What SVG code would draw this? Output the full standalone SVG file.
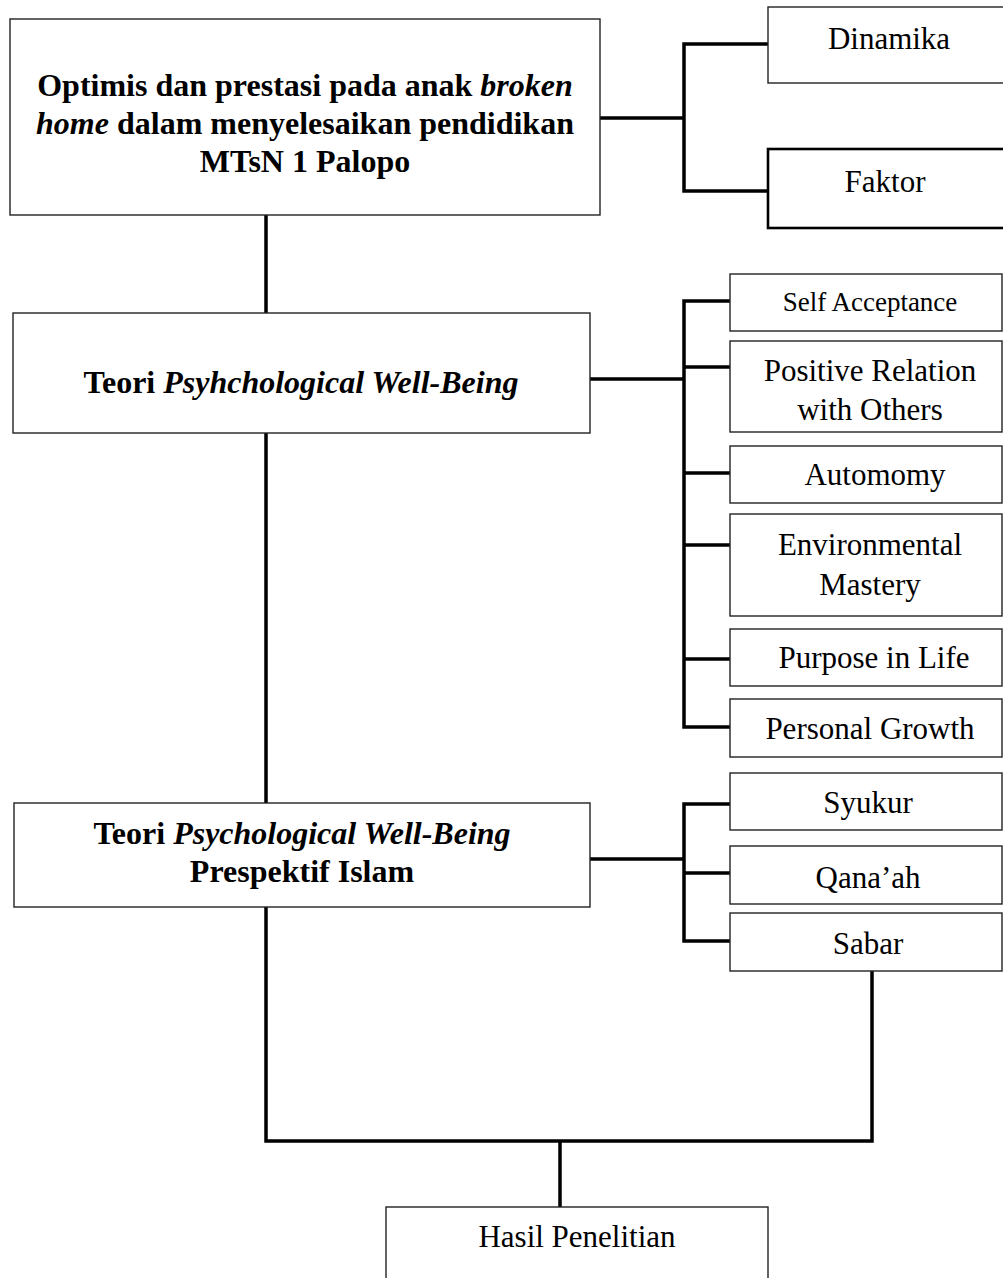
<svg xmlns="http://www.w3.org/2000/svg" width="1003" height="1278" viewBox="0 0 1003 1278">
<style>
.box{fill:#fff;stroke:#222;stroke-width:1.4}
.thick{fill:#fff;stroke:#000;stroke-width:2.6}
.t{font-family:"Liberation Serif","Times New Roman",serif;font-size:31px;fill:#000;text-anchor:middle}
.b{font-family:"Liberation Serif","Times New Roman",serif;font-size:32px;font-weight:bold;fill:#000;text-anchor:middle}
.i{font-style:italic}
.c{fill:none;stroke:#000;stroke-width:3.5;stroke-linecap:square;stroke-linejoin:miter}
</style>
<rect width="1003" height="1278" fill="#fff"/>
<g id="connectors">
<path class="c" d="M601 118H684M684 44V191M684 44H768M684 191H768"/>
<path class="c" d="M266 215V313M266 433V803M266 907V1141H872V971M560 1141V1207"/>
<path class="c" d="M590 379H684M684 301V727M684 301H730M684 367H730M684 473H730M684 545H730M684 659H730M684 727H730"/>
<path class="c" d="M590 859H684M684 804V941M684 804H730M684 873H730M684 941H730"/>
</g>
<g id="node-main">
<rect class="box" x="10" y="19" width="590" height="196"/>
<text class="b" x="305" y="96">Optimis dan prestasi pada anak <tspan class="i">broken</tspan></text>
<text class="b" x="305" y="134"><tspan class="i">home</tspan> dalam menyelesaikan pendidikan</text>
<text class="b" x="305" y="172">MTsN 1 Palopo</text>
</g>
<g id="node-dinamika">
<rect class="box" x="768" y="7" width="250" height="76"/>
<text class="t" x="889" y="49">Dinamika</text>
</g>
<g id="node-faktor">
<rect class="thick" x="768" y="149" width="250" height="79"/>
<text class="t" x="885" y="192">Faktor</text>
</g>
<g id="node-pwb">
<rect class="box" x="13" y="313" width="577" height="120"/>
<text class="b" x="301" y="393">Teori <tspan class="i">Psyhchological Well-Being</tspan></text>
</g>
<g id="node-self-acceptance">
<rect class="box" x="730" y="274" width="272" height="57"/>
<text class="t" x="870" y="311" style="font-size:27px">Self Acceptance</text>
</g>
<g id="node-positive-relation">
<rect class="box" x="730" y="341" width="272" height="91"/>
<text class="t" x="870" y="381">Positive Relation</text>
<text class="t" x="870" y="420">with Others</text>
</g>
<g id="node-autonomy">
<rect class="box" x="730" y="446" width="272" height="57"/>
<text class="t" x="875" y="485">Automomy</text>
</g>
<g id="node-environmental-mastery">
<rect class="box" x="730" y="514" width="272" height="102"/>
<text class="t" x="870" y="555">Environmental</text>
<text class="t" x="870" y="595">Mastery</text>
</g>
<g id="node-purpose">
<rect class="box" x="730" y="629" width="272" height="57"/>
<text class="t" x="874" y="668">Purpose in Life</text>
</g>
<g id="node-personal-growth">
<rect class="box" x="730" y="699" width="272" height="58"/>
<text class="t" x="870" y="739">Personal Growth</text>
</g>
<g id="node-pwb-islam">
<rect class="box" x="14" y="803" width="576" height="104"/>
<text class="b" x="302" y="844">Teori <tspan class="i">Psychological Well-Being</tspan></text>
<text class="b" x="302" y="882">Prespektif Islam</text>
</g>
<g id="node-syukur">
<rect class="box" x="730" y="773" width="272" height="57"/>
<text class="t" x="868" y="813">Syukur</text>
</g>
<g id="node-qanaah">
<rect class="box" x="730" y="846" width="272" height="58"/>
<text class="t" x="868" y="888">Qana’ah</text>
</g>
<g id="node-sabar">
<rect class="box" x="730" y="913" width="272" height="58"/>
<text class="t" x="868" y="954">Sabar</text>
</g>
<g id="node-hasil">
<rect class="box" x="386" y="1207" width="382" height="90"/>
<text class="t" x="577" y="1247">Hasil Penelitian</text>
</g>
</svg>
